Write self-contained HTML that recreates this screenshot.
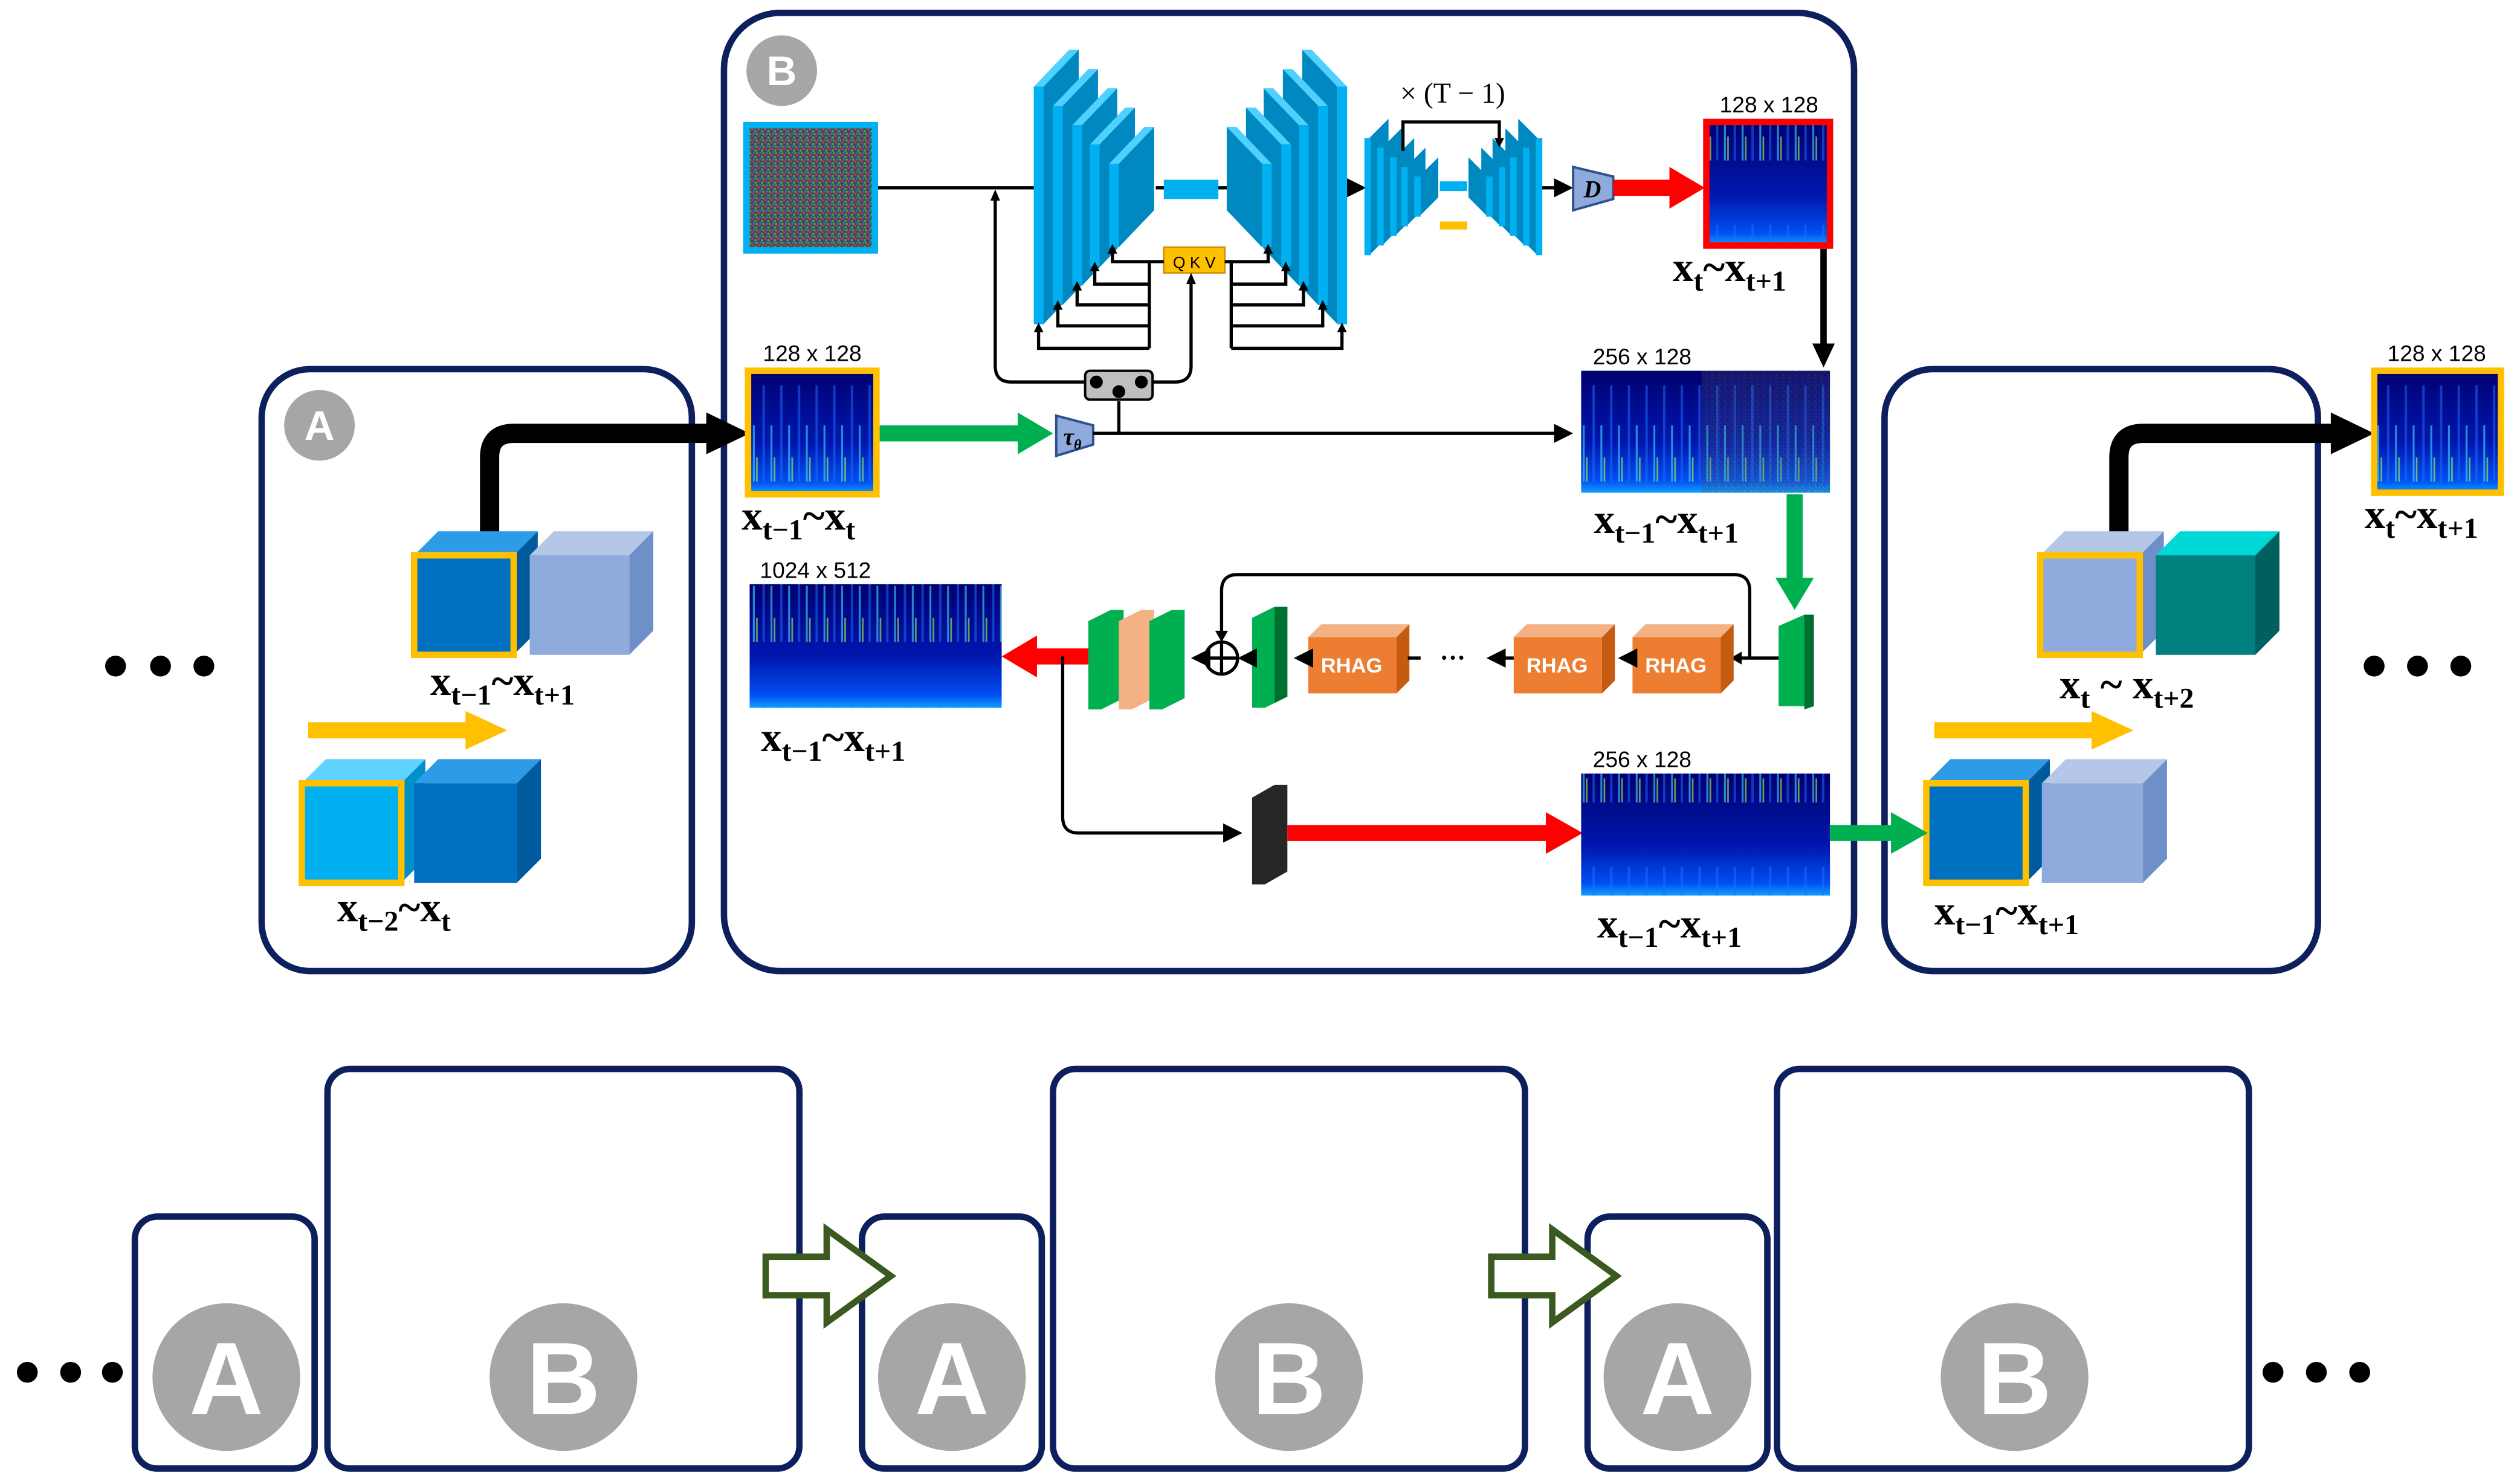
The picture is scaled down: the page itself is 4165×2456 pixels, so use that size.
<!DOCTYPE html>
<html><head><meta charset="utf-8"><style>html,body{margin:0;padding:0;background:#fff}svg{display:block}</style></head>
<body>
<svg width="4165" height="2456" viewBox="0 0 1568 924.6" xmlns="http://www.w3.org/2000/svg">
<defs>
<linearGradient id="sg" x1="0" y1="0" x2="0" y2="1"><stop offset="0" stop-color="#000070"/><stop offset="0.6" stop-color="#0018b0"/><stop offset="0.9" stop-color="#0050f0"/><stop offset="1" stop-color="#10a0ff"/></linearGradient>
<pattern id="st" width="11" height="100" patternUnits="userSpaceOnUse"><rect x="2" y="40" width="1.5" height="60" fill="#2070ff" opacity="0.5"/><rect x="7" y="65" width="1.2" height="35" fill="#40e0ff" opacity="0.6"/><rect x="9" y="85" width="1" height="15" fill="#c0ff40" opacity="0.6"/></pattern>
<pattern id="nz" width="4" height="4" patternUnits="userSpaceOnUse"><rect width="4" height="4" fill="#3a4a50"/><rect x="0" y="0" width="1.5" height="1.5" fill="#c03050"/><rect x="2" y="1" width="1.5" height="1.5" fill="#30a060"/><rect x="1" y="2.5" width="1.5" height="1.5" fill="#4060c0"/><rect x="3" y="3" width="1" height="1" fill="#a0a040"/></pattern>
<marker id="ab" markerWidth="6" markerHeight="6" refX="5" refY="3" orient="auto" markerUnits="strokeWidth"><path d="M0,0 L6,3 L0,6 z" fill="#000"/></marker>
</defs>
<style>
text{font-family:"Liberation Serif",serif}
.lb{font-family:"Liberation Serif",serif;font-weight:bold;font-size:26px}
.sb{font-size:18px}
.sm{font-family:"Liberation Sans",sans-serif;font-size:14px}
.bx{fill:none;stroke:#0d1f5c;stroke-width:4}
.ln{stroke:#000;stroke-width:2;fill:none}
.ss{font-family:"Liberation Sans",sans-serif}
</style>

<rect class="bx" x="163" y="230" width="268" height="375" rx="30"/>
<rect class="bx" x="451" y="8" width="704" height="597" rx="35"/>
<rect class="bx" x="1174" y="230" width="270" height="375" rx="30"/>
<circle cx="199" cy="265" r="22" fill="#a6a6a6"/><text class="ss" x="199" y="274" text-anchor="middle" fill="#fff" font-weight="bold" font-size="26">A</text>
<circle cx="487" cy="44" r="22" fill="#a6a6a6"/><text class="ss" x="487" y="53" text-anchor="middle" fill="#fff" font-weight="bold" font-size="26">B</text>

<g fill="#000"><circle cx="72" cy="415" r="6.5"/><circle cx="100" cy="415" r="6.5"/><circle cx="127" cy="415" r="6.5"/>
<circle cx="1479" cy="415" r="6.5"/><circle cx="1506" cy="415" r="6.5"/><circle cx="1533" cy="415" r="6.5"/>
<circle cx="17" cy="855" r="6.5"/><circle cx="44" cy="855" r="6.5"/><circle cx="70" cy="855" r="6.5"/>
<circle cx="1416" cy="855" r="6.5"/><circle cx="1443" cy="855" r="6.5"/><circle cx="1470" cy="855" r="6.5"/></g>

<g>
<rect class="bx" x="84" y="758" width="112" height="157" rx="14"/><rect class="bx" x="204" y="666" width="294" height="249" rx="14"/>
<rect class="bx" x="537" y="758" width="112" height="157" rx="14"/><rect class="bx" x="656" y="666" width="294" height="249" rx="14"/>
<rect class="bx" x="989" y="758" width="112" height="157" rx="14"/><rect class="bx" x="1107" y="666" width="294" height="249" rx="14"/>
<g fill="#a6a6a6"><circle cx="141" cy="858" r="46"/><circle cx="351" cy="858" r="46"/><circle cx="593" cy="858" r="46"/><circle cx="803" cy="858" r="46"/><circle cx="1045" cy="858" r="46"/><circle cx="1255" cy="858" r="46"/></g>
<g fill="#fff" font-weight="bold" font-size="64" text-anchor="middle">
<text class="ss" x="141" y="881">A</text><text class="ss" x="351" y="881">B</text>
<text class="ss" x="593" y="881">A</text><text class="ss" x="803" y="881">B</text>
<text class="ss" x="1045" y="881">A</text><text class="ss" x="1255" y="881">B</text></g>
<polygon points="477,783 515,783 515,766 555,795 515,824 515,807 477,807" fill="#fff" stroke="#3a5a20" stroke-width="4"/>
<polygon points="929,783 967,783 967,766 1007,795 967,824 967,807 929,807" fill="#fff" stroke="#3a5a20" stroke-width="4"/>
</g>

<!-- Box A -->
<path d="M305,336 V285 Q305,270 320,270 H445" stroke="#000" stroke-width="12" fill="none"/>
<polygon points="440,257 467,270 440,283" fill="#000"/>
<polygon points="258,346 273,331 335,331 320,346" fill="#2e9be6"/><polygon points="320,346 335,331 335,393 320,408" fill="#005a9e"/><rect x="258" y="346" width="62" height="62" fill="#0070c0" stroke="#ffc000" stroke-width="4"/>
<polygon points="330,346 345,331 407,331 392,346" fill="#b4c7e7"/><polygon points="392,346 407,331 407,393 392,408" fill="#6f8fc8"/><rect x="330" y="346" width="62" height="62" fill="#8faadc"/>
<rect x="192" y="450" width="100" height="10" fill="#ffc000"/><polygon points="290,443 316,455 290,467" fill="#ffc000"/>
<polygon points="188,488 203,473 265,473 250,488" fill="#5fd3ff"/><polygon points="250,488 265,473 265,535 250,550" fill="#0090c8"/><rect x="188" y="488" width="62" height="62" fill="#00b0f0" stroke="#ffc000" stroke-width="4"/>
<polygon points="258,488 273,473 337,473 322,488" fill="#2e9be6"/><polygon points="322,488 337,473 337,535 322,550" fill="#005a9e"/><rect x="258" y="488" width="64" height="62" fill="#0070c0"/>
<text class="lb" x="268" y="433">x<tspan class="sb" dy="6">t−1</tspan><tspan dy="-6">~x</tspan><tspan class="sb" dy="6">t+1</tspan></text>
<text class="lb" x="210" y="574">x<tspan class="sb" dy="6">t−2</tspan><tspan dy="-6">~x</tspan><tspan class="sb" dy="6">t</tspan></text>

<!-- Right A -->
<path d="M1320,336 V285 Q1320,270 1335,270 H1458" stroke="#000" stroke-width="12" fill="none"/>
<polygon points="1452,257 1479,270 1452,283" fill="#000"/>
<polygon points="1271,346 1286,331 1348,331 1333,346" fill="#b4c7e7"/><polygon points="1333,346 1348,331 1348,393 1333,408" fill="#6f8fc8"/><rect x="1271" y="346" width="62" height="62" fill="#8faadc" stroke="#ffc000" stroke-width="4"/>
<polygon points="1343,346 1358,331 1420,331 1405,346" fill="#00d8d8"/><polygon points="1405,346 1420,331 1420,393 1405,408" fill="#005f5f"/><rect x="1343" y="346" width="62" height="62" fill="#00807f"/>
<rect x="1205" y="450" width="100" height="10" fill="#ffc000"/><polygon points="1303,443 1329,455 1303,467" fill="#ffc000"/>
<polygon points="1200,488 1215,473 1277,473 1262,488" fill="#2e9be6"/><polygon points="1262,488 1277,473 1277,535 1262,550" fill="#005a9e"/><rect x="1200" y="488" width="62" height="62" fill="#0070c0" stroke="#ffc000" stroke-width="4"/>
<polygon points="1272,488 1287,473 1350,473 1335,488" fill="#b4c7e7"/><polygon points="1335,488 1350,473 1350,535 1335,550" fill="#6f8fc8"/><rect x="1272" y="488" width="63" height="62" fill="#8faadc"/>
<text class="lb" x="1283" y="435">x<tspan class="sb" dy="6">t</tspan><tspan dy="-6"> ~ x</tspan><tspan class="sb" dy="6">t+2</tspan></text>
<text class="lb" x="1205" y="576">x<tspan class="sb" dy="6">t−1</tspan><tspan dy="-6">~x</tspan><tspan class="sb" dy="6">t+1</tspan></text>
<rect x="1479" y="231" width="79" height="76" fill="url(#sg)"/><rect x="1479" y="231" width="79" height="76" fill="url(#st)"/><rect x="1479" y="231" width="79" height="76" fill="none" stroke="#ffc000" stroke-width="4"/>
<text class="sm" x="1518" y="225" text-anchor="middle">128 x 128</text>
<text class="lb" x="1473" y="329">x<tspan class="sb" dy="6">t</tspan><tspan dy="-6">~x</tspan><tspan class="sb" dy="6">t+1</tspan></text>

<!-- B contents -->
<rect x="465" y="78" width="80" height="78" fill="url(#nz)" stroke="#00b0f0" stroke-width="4"/>
<line class="ln" x1="547" y1="117" x2="645" y2="117"/>
<line class="ln" x1="720" y1="117" x2="770" y2="117"/>
<line class="ln" x1="838" y1="117" x2="849" y2="117" marker-end="url(#ab)"/>
<line class="ln" x1="960" y1="117" x2="978" y2="117" marker-end="url(#ab)"/>

<g>
<polygon points="650,54 672,31 672,179 650,202" fill="#0088c0"/><polygon points="644,54 650,54 672,31 666,31" fill="#4fd0ff"/><rect x="644" y="54" width="6" height="148" fill="#00b0f0"/>
<polygon points="662,66 684,43 684,167 662,190" fill="#0088c0"/><polygon points="656,66 662,66 684,43 678,43" fill="#4fd0ff"/><rect x="656" y="66" width="6" height="124" fill="#00b0f0"/>
<polygon points="674,78 696,55 696,155 674,178" fill="#0088c0"/><polygon points="668,78 674,78 696,55 690,55" fill="#4fd0ff"/><rect x="668" y="78" width="6" height="100" fill="#00b0f0"/>
<polygon points="685,90 707,67 707,143 685,166" fill="#0088c0"/><polygon points="679,90 685,90 707,67 701,67" fill="#4fd0ff"/><rect x="679" y="90" width="6" height="76" fill="#00b0f0"/>
<polygon points="697,102 719,79 719,131 697,154" fill="#0088c0"/><polygon points="691,102 697,102 719,79 713,79" fill="#4fd0ff"/><rect x="691" y="102" width="6" height="52" fill="#00b0f0"/>
</g>
<g transform="translate(1483.2,0) scale(-1,1)">
<polygon points="650,54 672,31 672,179 650,202" fill="#0088c0"/><polygon points="644,54 650,54 672,31 666,31" fill="#4fd0ff"/><rect x="644" y="54" width="6" height="148" fill="#00b0f0"/>
<polygon points="662,66 684,43 684,167 662,190" fill="#0088c0"/><polygon points="656,66 662,66 684,43 678,43" fill="#4fd0ff"/><rect x="656" y="66" width="6" height="124" fill="#00b0f0"/>
<polygon points="674,78 696,55 696,155 674,178" fill="#0088c0"/><polygon points="668,78 674,78 696,55 690,55" fill="#4fd0ff"/><rect x="668" y="78" width="6" height="100" fill="#00b0f0"/>
<polygon points="685,90 707,67 707,143 685,166" fill="#0088c0"/><polygon points="679,90 685,90 707,67 701,67" fill="#4fd0ff"/><rect x="679" y="90" width="6" height="76" fill="#00b0f0"/>
<polygon points="697,102 719,79 719,131 697,154" fill="#0088c0"/><polygon points="691,102 697,102 719,79 713,79" fill="#4fd0ff"/><rect x="691" y="102" width="6" height="52" fill="#00b0f0"/>
</g>
<rect x="725" y="112" width="34" height="12" fill="#00b0f0"/>
<g>
<polygon points="853,86 865,74 865,147 853,159" fill="#0088c0"/><rect x="850" y="86" width="4" height="73" fill="#00b0f0"/>
<polygon points="861,92 873,80 873,141 861,153" fill="#0088c0"/><rect x="858" y="92" width="4" height="61" fill="#00b0f0"/>
<polygon points="869,98 881,86 881,135 869,147" fill="#0088c0"/><rect x="866" y="98" width="4" height="49" fill="#00b0f0"/>
<polygon points="876,104 888,92 888,129 876,141" fill="#0088c0"/><rect x="873" y="104" width="4" height="37" fill="#00b0f0"/>
<polygon points="884,110 896,98 896,123 884,135" fill="#0088c0"/><rect x="881" y="110" width="4" height="25" fill="#00b0f0"/>
</g>
<g transform="translate(1810.8,0) scale(-1,1)">
<polygon points="853,86 865,74 865,147 853,159" fill="#0088c0"/><rect x="850" y="86" width="4" height="73" fill="#00b0f0"/>
<polygon points="861,92 873,80 873,141 861,153" fill="#0088c0"/><rect x="858" y="92" width="4" height="61" fill="#00b0f0"/>
<polygon points="869,98 881,86 881,135 869,147" fill="#0088c0"/><rect x="866" y="98" width="4" height="49" fill="#00b0f0"/>
<polygon points="876,104 888,92 888,129 876,141" fill="#0088c0"/><rect x="873" y="104" width="4" height="37" fill="#00b0f0"/>
<polygon points="884,110 896,98 896,123 884,135" fill="#0088c0"/><rect x="881" y="110" width="4" height="25" fill="#00b0f0"/>
</g>
<rect x="897" y="113" width="17" height="6" fill="#00b0f0"/><rect x="897" y="138" width="17" height="5" fill="#ffc000"/>
<text x="905" y="64" text-anchor="middle" font-size="18">× (T − 1)</text>
<path class="ln" d="M874,94 V76 H934 V88" stroke-width="1.5"/><polygon points="931,86 937,86 934,92" fill="#000"/>

<rect x="725" y="154" width="38" height="16" fill="#ffc000" stroke="#d09000" stroke-width="1"/>
<text class="ss" x="744" y="167" text-anchor="middle" font-size="10">Q K V</text>
<g class="ln" stroke-width="2">
<path d="M725,163 H693 V157"/><path d="M716,163 V217"/>
<path d="M716,177 H682 V168"/><path d="M716,190 H671 V180"/><path d="M716,203 H659 V192"/><path d="M716,217 H647 V206"/>
<path d="M763,163 H790 V157"/><path d="M767,163 V217"/>
<path d="M767,177 H801 V168"/><path d="M767,190 H812 V180"/><path d="M767,203 H824 V192"/><path d="M767,217 H836 V206"/>
<path d="M620,124 V228 Q620,238 630,238 H676"/><path d="M718,238 H732 Q742,238 742,228 V176"/>
<path d="M697,250 V270"/>
</g>
<g fill="#000">
<polygon points="690,158 696,158 693,152"/><polygon points="679,169 685,169 682,163"/><polygon points="668,181 674,181 671,175"/><polygon points="656,193 662,193 659,187"/><polygon points="644,207 650,207 647,201"/>
<polygon points="787,158 793,158 790,152"/><polygon points="798,169 804,169 801,163"/><polygon points="809,181 815,181 812,175"/><polygon points="821,193 827,193 824,187"/><polygon points="833,207 839,207 836,201"/>
<polygon points="617,125 623,125 620,118"/><polygon points="739,177 745,177 742,170"/>
</g>
<rect x="676" y="231" width="42" height="18" rx="3" fill="#bfbfbf" stroke="#000" stroke-width="1.5"/>
<circle cx="683" cy="238" r="4" fill="#000"/><circle cx="711" cy="238" r="4" fill="#000"/><circle cx="697" cy="244" r="4" fill="#000"/>

<polygon points="980,104 1005,110 1005,124 980,131" fill="#8faadc" stroke="#2f528f" stroke-width="1.5"/>
<text x="992" y="123" text-anchor="middle" font-size="15" font-style="italic" font-weight="bold">D</text>
<rect x="1005" y="112" width="38" height="10" fill="#ff0000"/><polygon points="1040,104 1062,117 1040,130" fill="#ff0000"/>
<rect x="1063" y="76" width="77" height="77" fill="url(#sg)"/><rect x="1063" y="76" width="77" height="77" fill="url(#st)"/><rect x="1063" y="76" width="77" height="77" fill="none" stroke="#ff0000" stroke-width="4"/>
<text class="sm" x="1102" y="70" text-anchor="middle">128 x 128</text>
<text class="lb" x="1042" y="175">x<tspan class="sb" dy="6">t</tspan><tspan dy="-6">~x</tspan><tspan class="sb" dy="6">t+1</tspan></text>
<line x1="1136" y1="155" x2="1136" y2="216" stroke="#000" stroke-width="4"/><polygon points="1129,214 1143,214 1136,229" fill="#000"/>

<rect x="466" y="231" width="80" height="77" fill="url(#sg)"/><rect x="466" y="231" width="80" height="77" fill="url(#st)"/><rect x="466" y="231" width="80" height="77" fill="none" stroke="#ffc000" stroke-width="4"/>
<text class="sm" x="506" y="225" text-anchor="middle">128 x 128</text>
<text class="lb" x="462" y="330">x<tspan class="sb" dy="6">t−1</tspan><tspan dy="-6">~x</tspan><tspan class="sb" dy="6">t</tspan></text>
<rect x="548" y="265" width="88" height="10" fill="#00b050"/><polygon points="634,257 656,270 634,283" fill="#00b050"/>
<polygon points="658,259 681,265 681,277 658,284" fill="#8faadc" stroke="#2f528f" stroke-width="1.5"/>
<text x="668" y="277" text-anchor="middle" font-size="15" font-style="italic" font-weight="bold">τ<tspan font-size="9" dy="3">θ</tspan></text>
<line class="ln" x1="681" y1="270" x2="978" y2="270" marker-end="url(#ab)"/>
<rect x="985" y="231" width="155" height="76" fill="url(#sg)"/><rect x="985" y="231" width="155" height="76" fill="url(#st)"/>
<rect x="1060" y="231" width="80" height="76" fill="url(#nz)" opacity="0.25"/>
<text class="sm" x="1023" y="227" text-anchor="middle">256 x 128</text>
<text class="lb" x="993" y="332">x<tspan class="sb" dy="6">t−1</tspan><tspan dy="-6">~x</tspan><tspan class="sb" dy="6">t+1</tspan></text>
<rect x="1113" y="308" width="10" height="55" fill="#00b050"/><polygon points="1106,360 1130,360 1118,380" fill="#00b050"/>

<polygon points="1108,390 1124,383 1130,383 1130,440 1114,440 1108,440" fill="#00b050"/><polygon points="1124,383 1130,383 1130,440 1124,442" fill="#007030"/>
<path class="ln" d="M1108,410 H1085"/><polygon points="1085,406 1085,414 1078,410" fill="#000"/>
<path class="ln" d="M1090,410 V368 Q1090,358 1080,358 H771 Q761,358 761,368 V398"/><polygon points="757,393 765,393 761,400" fill="#000"/>
<g>
<polygon points="1017,397 1025,389 1080,389 1072,397" fill="#f4b183"/><polygon points="1072,397 1080,389 1080,424 1072,432" fill="#c55a11"/><rect x="1017" y="397" width="55" height="35" fill="#ed7d31"/>
<text class="ss" x="1044" y="419" text-anchor="middle" fill="#fff" font-size="13" font-weight="bold">RHAG</text>
<polygon points="943,397 951,389 1006,389 998,397" fill="#f4b183"/><polygon points="998,397 1006,389 1006,424 998,432" fill="#c55a11"/><rect x="943" y="397" width="55" height="35" fill="#ed7d31"/>
<text class="ss" x="970" y="419" text-anchor="middle" fill="#fff" font-size="13" font-weight="bold">RHAG</text>
<polygon points="815,397 823,389 878,389 870,397" fill="#f4b183"/><polygon points="870,397 878,389 878,424 870,432" fill="#c55a11"/><rect x="815" y="397" width="55" height="35" fill="#ed7d31"/>
<text class="ss" x="842" y="419" text-anchor="middle" fill="#fff" font-size="13" font-weight="bold">RHAG</text>
</g>
<line class="ln" x1="1017" y1="410" x2="1010" y2="410" marker-end="url(#ab)"/>
<line class="ln" x1="943" y1="410" x2="928" y2="410" marker-end="url(#ab)"/>
<text x="905" y="415" text-anchor="middle" font-size="16" font-weight="bold">···</text>
<line class="ln" x1="885" y1="410" x2="877" y2="410"/>
<line class="ln" x1="815" y1="410" x2="808" y2="410" marker-end="url(#ab)"/>
<polygon points="780,385 794,378 802,378 802,434 788,441 780,441" fill="#00b050"/><polygon points="794,378 802,378 802,434 794,438" fill="#007030"/>
<line class="ln" x1="780" y1="410" x2="773" y2="410" marker-end="url(#ab)"/>
<circle cx="761" cy="410" r="10" fill="#fff" stroke="#000" stroke-width="2"/><path class="ln" d="M751,410 H771 M761,400 V420"/>
<line class="ln" x1="751" y1="410" x2="744" y2="410" marker-end="url(#ab)"/>
<polygon points="678,387 692,380 700,380 700,435 686,442 678,442" fill="#00b050"/>
<polygon points="697,387 711,380 719,380 719,435 705,442 697,442" fill="#f4b183"/>
<polygon points="716,387 730,380 738,380 738,435 724,442 716,442" fill="#00b050"/>
<rect x="642" y="404" width="36" height="10" fill="#ff0000"/><polygon points="646,396 624,409 646,422" fill="#ff0000"/>
<rect x="467" y="364" width="157" height="77" fill="url(#sg)"/><rect x="467" y="364" width="157" height="77" fill="url(#st)"/>
<text class="sm" x="508" y="360" text-anchor="middle">1024 x 512</text>
<text class="lb" x="474" y="468">x<tspan class="sb" dy="6">t−1</tspan><tspan dy="-6">~x</tspan><tspan class="sb" dy="6">t+1</tspan></text>

<path class="ln" d="M662,409 V509 Q662,519 672,519 H772" marker-end="url(#ab)"/>
<polygon points="780,497 794,489 802,489 802,543 788,551 780,551" fill="#262626"/>
<rect x="802" y="514" width="164" height="10" fill="#ff0000"/><polygon points="963,506 986,519 963,532" fill="#ff0000"/>
<rect x="985" y="482" width="155" height="76" fill="url(#sg)"/><rect x="985" y="482" width="155" height="76" fill="url(#st)"/>
<text class="sm" x="1023" y="478" text-anchor="middle">256 x 128</text>
<text class="lb" x="995" y="584">x<tspan class="sb" dy="6">t−1</tspan><tspan dy="-6">~x</tspan><tspan class="sb" dy="6">t+1</tspan></text>
<rect x="1140" y="514" width="40" height="10" fill="#00b050"/><polygon points="1178,506 1201,519 1178,532" fill="#00b050"/>
</svg>
</body></html>
